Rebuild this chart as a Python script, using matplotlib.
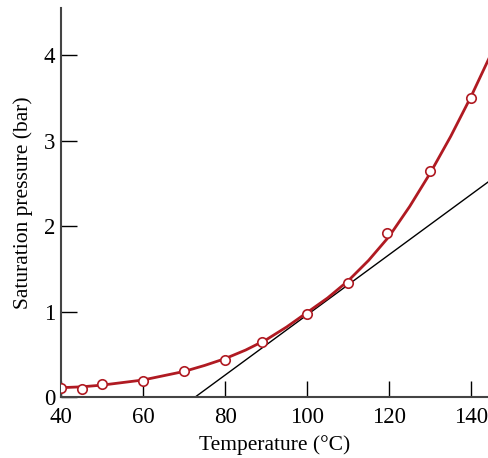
import numpy as np
import matplotlib.pyplot as plt

# measured points (temperature in C, pressure in bar)
temp_pts = [40, 45, 50, 60, 70, 80, 89, 100, 110, 119.5, 130, 140]
pres_pts = [0.105, 0.09, 0.15, 0.19, 0.30, 0.43, 0.65, 0.97, 1.33, 1.92, 2.65, 3.50]

# fitted curve
curve_t = [40, 45, 50, 55, 60, 65, 70, 75, 80, 85, 90, 95, 100, 105,
           110, 115, 120, 125, 130, 135, 140, 144.5]
curve_p = [0.11, 0.12, 0.14, 0.17, 0.20, 0.25, 0.30, 0.37, 0.45, 0.55,
           0.67, 0.82, 0.99, 1.16, 1.36, 1.60, 1.88, 2.23, 2.62, 3.05,
           3.52, 3.98]

# tangent line at 100 C
tan_t = [72.7, 144.5]
tan_p = [0.0, 2.53]

plt.rcParams["font.family"] = ["Liberation Serif", "DejaVu Serif"]

fig = plt.figure(figsize=(4.88, 4.58), dpi=100)
ax = fig.add_axes([0.125, 0.133, 0.875, 0.849])

red = "#b01a22"
ax.plot(tan_t, tan_p, color="black", linewidth=1.0, zorder=2)
ax.plot(curve_t, curve_p, color=red, linewidth=2.0, zorder=3,
        solid_joinstyle="round")
ax.plot(temp_pts, pres_pts, "o", markersize=6.8, markerfacecolor="white",
        markeredgecolor=red, markeredgewidth=1.2, zorder=4)

ax.set_xlim(40, 144.1)
ax.set_ylim(0, 4.55)
ax.set_xticks([40, 60, 80, 100, 120, 140])
ax.set_yticks([0, 1, 2, 3, 4])

for side in ["top", "right"]:
    ax.spines[side].set_visible(False)
for side in ["left", "bottom"]:
    ax.spines[side].set_color("#444444")
    ax.spines[side].set_linewidth(1.5)

ax.tick_params(direction="in", length=11.5, width=1.0, color="black",
               labelsize=16.5)
ax.tick_params(axis="x", pad=7)
ax.tick_params(axis="y", pad=4)
ax.set_xlabel("Temperature (°C)", fontsize=15.5, labelpad=5)
ax.set_ylabel("Saturation pressure (bar)", fontsize=15.5, labelpad=8)

fig.savefig("out.png", dpi=100)
